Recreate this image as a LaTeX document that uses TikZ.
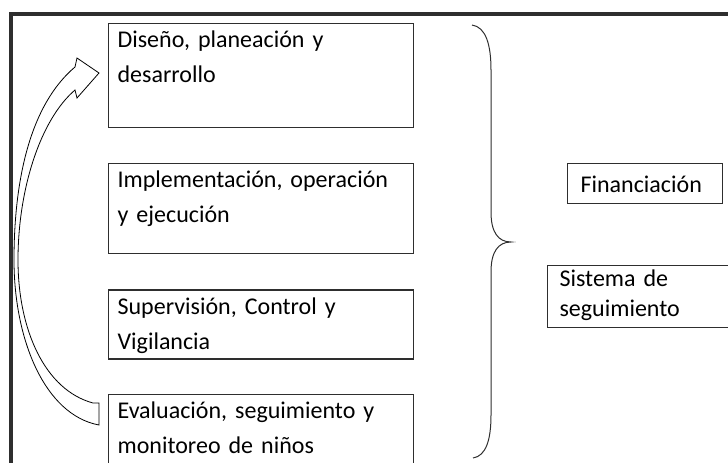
\documentclass[tikz,border=0pt]{standalone}
\usepackage{fontspec}
\setmainfont{Carlito}
\usepackage{tikz}
\usetikzlibrary{positioning}
\definecolor{framegray}{HTML}{2E2E2E}
\tikzset{node distance=35pt, auto,
  box/.style={draw=framegray, line width=1.2pt, text width=287pt, align=left,
    inner xsep=9pt, inner ysep=0pt, text height=24pt, font=\fontsize{24}{35}\selectfont},
  sidebox/.style={draw=framegray, line width=1.2pt, align=left, anchor=north west,
    font=\fontsize{24}{30}\selectfont}}

\begin{document}
\begin{tikzpicture}[x=1pt, y=-1pt]

             \useasboundingbox (0,0) rectangle (728,463);

             % frame (cut off at the right and bottom)
             \draw [framegray, line width=4pt] (11,475) -- (11,13.5) -- (745,13.5);

             \node (Dis) [box, text depth=80pt, anchor=north west] at (108,23) {Diseño, planeación y\\desarrollo};
             \node (Imp) [box, text depth=66pt, below=of Dis] {Implementación, operación\\y ejecución};
             \node (Sup) [box, text depth=45pt, below=of Imp] {Supervisión, Control y\\Vigilancia};
             \node (Eva) [box, text depth=46pt, below=34pt of Sup] {Evaluación, seguimiento y\\monitoreo de niños};

             \node (Fin) [sidebox, text width=129pt, inner xsep=13pt, inner ysep=8pt,
                          text height=21pt, text depth=3pt] at (567,163) {Financiación};
             \node (Sis) [sidebox, text width=200pt, inner xsep=12pt, inner ysep=1pt,
                          text height=20pt, text depth=40pt] at (547,265) {Sistema de\\seguimiento};

             % brace
             \draw [framegray, line width=1pt] (472,25) .. controls (486,27) and (491,45) .. (491,70)
                   -- (491,212) .. controls (491,232) and (498,242) .. (511,242)
                   .. controls (498,242) and (491,252) .. (491,272)
                   -- (491,415) .. controls (491,440) and (486,456) .. (473,458);

             % curved block arrow from Eva back to Dis
             \draw [line width=0.8pt, fill=white] (99,425) .. controls (45,415) and (14,340) .. (14,260)
                   .. controls (14,180) and (30,105) .. (75,67) -- (77,58) -- (99,73) -- (77,98) -- (75,90)
                   .. controls (40,120) and (18,190) .. (18,260)
                   .. controls (18,330) and (45,390) .. (93,403) -- (99,403) -- cycle;

          \end{tikzpicture}
\end{document}
